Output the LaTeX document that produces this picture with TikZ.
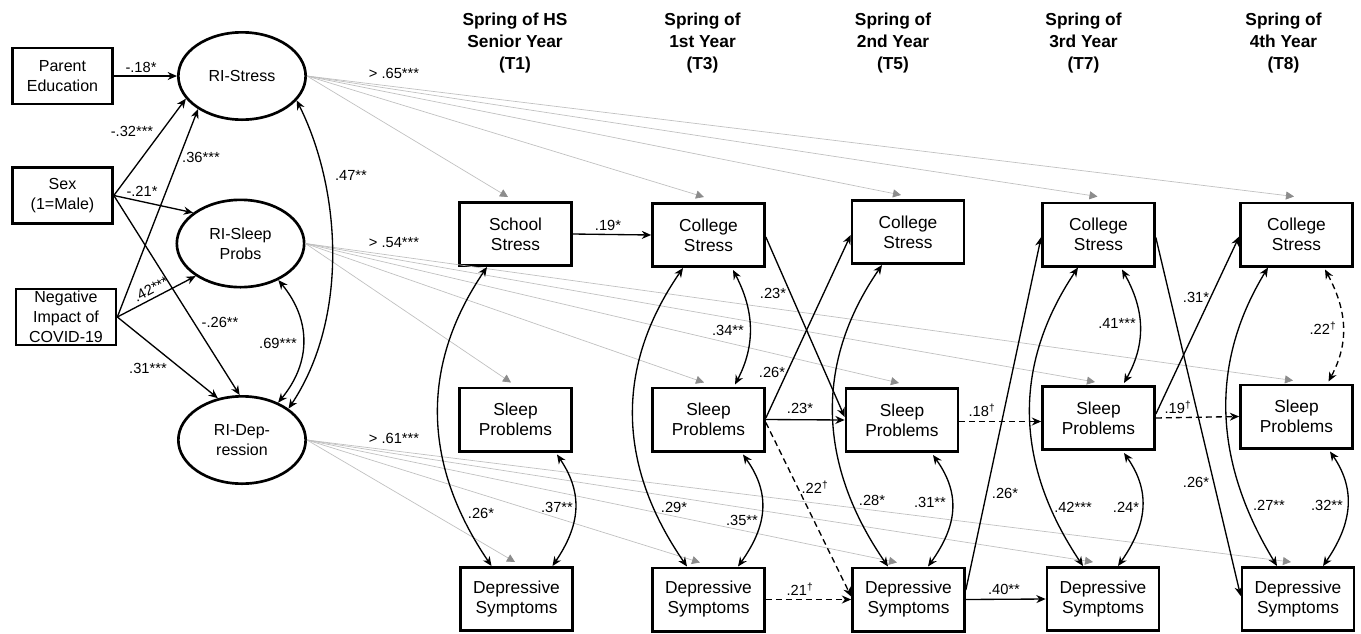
\documentclass[tikz,border=0pt]{standalone}
\usepackage{fontspec}
\setmainfont{Liberation Sans}
\usetikzlibrary{arrows.meta,calc,shapes.geometric}
\begin{document}
\begin{tikzpicture}[x=0.75pt,y=-0.75pt,
  box/.style={draw,line width=2pt,fill=white,minimum width=84pt,minimum height=47.5pt,inner sep=1pt,align=center,font=\fontsize{13}{15}\selectfont},
  lbox/.style={draw,line width=2pt,fill=white,minimum width=75pt,minimum height=42pt,inner sep=1pt,align=center,font=\fontsize{12}{15}\selectfont},
  lat/.style={ellipse,draw,line width=2pt,fill=white,minimum width=95.5pt,minimum height=65.5pt,inner sep=0pt,align=center,font=\fontsize{12}{15}\selectfont},
  hdr/.style={align=center,font=\fontsize{13}{16.5}\selectfont\bfseries},
  lab/.style={font=\fontsize{11}{12}\selectfont,inner sep=1pt},
  arr/.style={draw,line width=1pt,-{Stealth[length=7pt,width=6pt]}},
  dbl/.style={draw,line width=1pt,{Stealth[length=7pt,width=6pt]}-{Stealth[length=7pt,width=6pt]}},
  dsh/.style={dash pattern=on 4.5pt off 3pt},
  load/.style={draw=gray!50,line width=0.5pt,-{Triangle[length=6pt,width=6pt,color=gray!90]}},
]
\useasboundingbox (0,0) rectangle (1361,633);
\fill[white] (0,0) rectangle (1361,633);

% headers
\node[hdr] (h1) at (515,43) {Spring of HS\\Senior Year\\(T1)};
\node[hdr] (h3) at (702.5,43) {Spring of\\1st Year\\(T3)};
\node[hdr] (h5) at (893,43) {Spring of\\2nd Year\\(T5)};
\node[hdr] (h7) at (1083.5,43) {Spring of\\3rd Year\\(T7)};
\node[hdr] (h8) at (1283.5,43) {Spring of\\4th Year\\(T8)};

% left boxes and latent factors
\node[lbox] (pe) at (62.5,76) {Parent\\Education};
\node[lbox] (sex) at (62.5,195.5) {Sex\\(1=Male)};
\node[lbox] (cov) at (66,317) {Negative\\Impact of\\COVID-19};
\node[lat] (ris) at (242,76) {RI-Stress};
\node[lat] (risp) at (240.5,243.5) {RI-Sleep\\Probs};
\node[lat] (rid) at (242,440) {RI-Dep-\\ression};

% observed boxes
\node[box] (ss1) at (515.5,234) {School\\Stress};
\node[box] (sp1) at (515.5,419.5) {Sleep\\Problems};
\node[box] (dp1) at (516.5,599) {Depressive\\Symptoms};
\node[box] (cs3) at (708.5,235) {College\\Stress};
\node[box] (sp3) at (708.5,419.5) {Sleep\\Problems};
\node[box] (dp3) at (708.5,599.5) {Depressive\\Symptoms};
\node[box] (cs5) at (908,232) {College\\Stress};
\node[box] (sp5) at (902,420) {Sleep\\Problems};
\node[box] (dp5) at (908.5,599.5) {Depressive\\Symptoms};
\node[box] (cs7) at (1098.5,234.5) {College\\Stress};
\node[box] (sp7) at (1098.5,418) {Sleep\\Problems};
\node[box] (dp7) at (1103,599) {Depressive\\Symptoms};
\node[box] (cs8) at (1296.5,234.5) {College\\Stress};
\node[box] (sp8) at (1296.5,416.5) {Sleep\\Problems};
\node[box] (dp8) at (1298,599) {Depressive\\Symptoms};

% loadings (gray)
\path[load] (ris.east) -- ($(ss1.north)+(-7.5,-4)$);
\path[load] (ris.east) -- ($(cs3.north)+(-4.5,-5)$);
\path[load] (ris.east) -- ($(cs5.north)+(-7,-4)$);
\path[load] (ris.east) -- ($(cs7.north)+(-1,-5)$);
\path[load] (ris.east) -- ($(cs8.north)+(-2.5,-5)$);
\path[load] (risp.east) -- ($(sp1.north)+(-4.5,-4)$);
\path[load] (risp.east) -- ($(sp3.north)+(-4.5,-4)$);
\path[load] (risp.east) -- ($(sp5.north)+(-3,-4)$);
\path[load] (risp.east) -- ($(sp7.north)+(-3.5,-3)$);
\path[load] (risp.east) -- ($(sp8.north)+(-3.5,-3)$);
\path[load] (rid.east) -- ($(dp1.north)+(-1.5,-4)$);
\path[load] (rid.east) -- ($(dp3.north)+(-8.5,-4)$);
\path[load] (rid.east) -- ($(dp5.north)+(-11.5,-4)$);
\path[load] (rid.east) -- ($(dp7.north)+(-10,-4)$);
\path[load] (rid.east) -- ($(dp8.north)+(-7,-4)$);
\node[lab] (g1) at (394,73) {> .65***};
\node[lab] (g2) at (394,243) {> .54***};
\node[lab] (g3) at (394,438) {> .61***};

% covariates
\path[arr] (pe.east) -- (ris.west);
\path[arr] (sex.east) -- (ris.202);
\path[arr] (sex.east) -- (risp.147);
\path[arr] (sex.east) -- (rid.93);
\path[arr] (cov.east) -- (ris.217);
\path[arr] (cov.east) -- (risp.216);
\path[arr] (cov.east) -- (rid.120);
\path[dbl] (ris.336) .. controls +(45,90) and +(60,-90) .. (rid.34);
\path[dbl] (risp.316) .. controls +(33,40) and +(33,-40) .. (rid.46);
\node[lab] (c1) at (141,67) {-.18*};
\node[lab] (c2) at (132,131) {-.32***};
\node[lab] (c3) at (142,191) {-.21*};
\node[lab] (c4) at (201,157) {.36***};
\node[lab] (c5) at (220,322) {-.26**};
\node[lab,rotate=28,inner sep=0pt] (c6) at (151,289) {.42***};
\node[lab] (c7) at (148,368) {.31***};
\node[lab] (c8) at (351,175) {.47**};
\node[lab] (c9) at (278,343) {.69***};

% T1
\path[arr] (ss1.east) -- (cs3.west);
\path[dbl] ($(ss1.south)+(-28.5,0)$) .. controls +(-68,100) and +(-68,-100) .. ($(dp1.north)+(-25,0)$);
\path[dbl] ($(sp1.south)+(41.5,2)$) .. controls +(27,40) and +(27,-40) .. ($(dp1.north)+(36,0)$);
\node[lab] (a1) at (608,225) {.19*};
\node[lab] (a2) at (481,513) {.26*};
\node[lab] (a3) at (557,507) {.37**};

% T3
\path[dbl] ($(cs3.south)+(-25.5,0)$) .. controls +(-69,100) and +(-69,-100) .. ($(dp3.north)+(-21.5,0)$);
\path[dbl] ($(cs3.south)+(24.5,2)$) .. controls +(21,40) and +(21,-40) .. ($(sp3.north)+(26.5,-2)$);
\path[dbl] ($(sp3.south)+(34.5,2)$) .. controls +(28.5,40) and +(28.5,-40) .. ($(dp3.north)+(29.5,0)$);
\node[lab] (b1) at (674,507) {.29*};
\node[lab] (b2) at (728,330) {.34**};
\node[lab] (b3) at (742,520) {.35**};
\path[arr] ($(cs3.east)+(0,2)$) -- ($(sp5.west)+(0,-3)$);
\path[arr] ($(sp3.east)+(0,-1.5)$) -- ($(cs5.west)+(0,3)$);
\path[arr] (sp3.east) -- (sp5.west);
\path[arr,dsh] ($(sp3.east)+(0,3)$) -- ($(dp5.west)+(0,-3)$);
\path[arr,dsh] (dp3.east) -- (dp5.west);
\node[lab] (b4) at (773,293) {.23*};
\node[lab] (b5) at (772,372) {.26*};
\node[lab] (b6) at (800,408) {.23*};
\node[lab] (b7) at (815,487) {.22\textsuperscript{†}};
\node[lab] (b8) at (800,589) {.21\textsuperscript{†}};

% T5
\path[dbl] ($(cs5.south)+(-26,0)$) .. controls +(-69,100) and +(-69,-100) .. ($(dp5.north)+(-20.5,0)$);
\path[dbl] ($(sp5.south)+(31,2)$) .. controls +(28.5,40) and +(28.5,-40) .. ($(dp5.north)+(19.5,0)$);
\node[lab] (d1) at (872,500) {.28*};
\node[lab] (d2) at (930,502) {.31**};
\path[arr,dsh] ($(sp5.east)+(0,1.5)$) -- ($(sp7.west)+(0,3.5)$);
\path[arr] ($(dp5.east)+(0,-9.5)$) -- ($(cs7.west)+(0,2.5)$);
\path[arr] (dp5.east) -- (dp7.west);
\node[lab] (d3) at (982,410) {.18\textsuperscript{†}};
\node[lab] (d4) at (1005,493) {.26*};
\node[lab] (d5) at (1004,589) {.40**};

% T7
\path[dbl] ($(cs7.south)+(-20.5,0)$) .. controls +(-67,100) and +(-67,-100) .. ($(dp7.north)+(-20,0)$);
\path[dbl] ($(cs7.south)+(23.5,2)$) .. controls +(22.5,40) and +(22.5,-40) .. ($(sp7.north)+(25.5,-2)$);
\path[dbl] ($(sp7.south)+(25.5,2)$) .. controls +(28,40) and +(28,-40) .. ($(dp7.north)+(15,0)$);
\node[lab] (e1) at (1073,507) {.42***};
\node[lab] (e2) at (1117,323) {.41***};
\node[lab] (e3) at (1126,507) {.24*};
\path[arr] ($(sp7.east)+(0,-4)$) -- ($(cs8.west)+(0,2)$);
\path[arr] ($(cs7.east)+(0,3)$) -- ($(dp8.west)+(0,-3)$);
\path[arr,dsh] (sp7.east) -- (sp8.west);
\node[lab] (e4) at (1196,297) {.31*};
\node[lab] (e5) at (1196,482) {.26*};
\node[lab] (e6) at (1178,407) {.19\textsuperscript{†}};

% T8
\path[dbl] ($(cs8.south)+(-28.5,0)$) .. controls +(-61,100) and +(-61,-100) .. ($(dp8.north)+(-21,0)$);
\path[dbl,dsh] ($(cs8.south)+(28.5,2)$) .. controls +(21.5,40) and +(21.5,-40) .. ($(sp8.north)+(32,-2)$);
\path[dbl] ($(sp8.south)+(33.5,2)$) .. controls +(27.5,40) and +(27.5,-40) .. ($(dp8.north)+(25,0)$);
\node[lab] (f1) at (1269,505) {.27**};
\node[lab] (f2) at (1323,328) {.22\textsuperscript{†}};
\node[lab] (f3) at (1327,505) {.32**};
\end{tikzpicture}
\end{document}
